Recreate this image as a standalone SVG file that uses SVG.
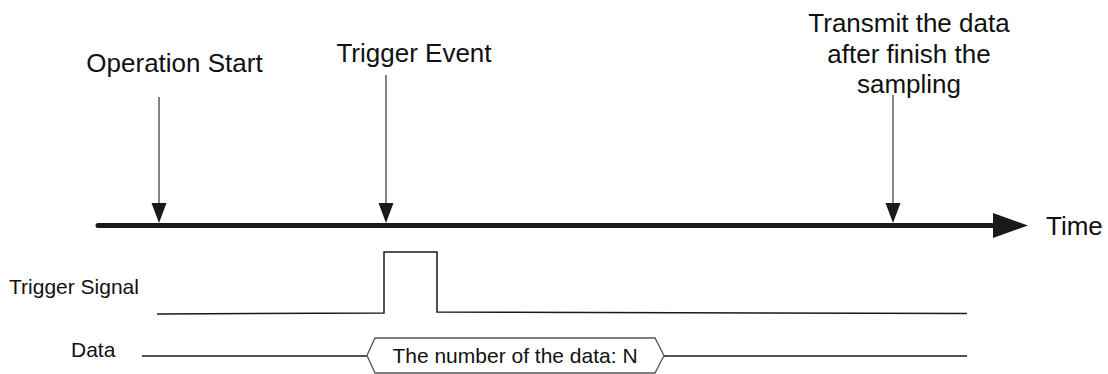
<svg xmlns="http://www.w3.org/2000/svg" width="1108" height="374" viewBox="0 0 1108 374">
<style>
text{font-family:"Liberation Sans",Arial,sans-serif;fill:#111}
.big{font-size:26px}
.small{font-size:21px}
.thin{stroke:#333;stroke-width:1.2;fill:none}
.sig{stroke:#1a1a1a;stroke-width:1.5;fill:none}
.head{fill:#1a1a1a}
</style>
<rect width="1108" height="374" fill="#fff"/>
<g id="time-axis">
<line x1="98" y1="225.5" x2="996" y2="225.5" stroke="#1a1a1a" stroke-width="5" stroke-linecap="round"/>
<polygon class="head" points="993,213 1028,225.5 993,238"/>
<text class="big" x="1046" y="235">Time</text>
</g>
<g id="operation-start">
<text class="big" x="174.5" y="72" text-anchor="middle">Operation Start</text>
</g>
<g id="trigger-event">
<text class="big" x="414" y="62" text-anchor="middle">Trigger Event</text>
</g>
<g id="transmit">
<text class="big" text-anchor="middle"><tspan x="909" y="32">Transmit the data</tspan><tspan x="909" y="63">after finish the</tspan><tspan x="909" y="93">sampling</tspan></text>
</g>
<g id="connectors">
<line class="thin" x1="159" y1="97" x2="159" y2="205"/>
<polygon class="head" points="151.5,203 166.5,203 159,223"/>
<line class="thin" x1="386" y1="75" x2="386" y2="205"/>
<polygon class="head" points="378.5,203 393.5,203 386,223"/>
<line class="thin" x1="893" y1="95" x2="893" y2="205"/>
<polygon class="head" points="885.5,203 900.5,203 893,223"/>
</g>
<g id="trigger-signal">
<text x="9" y="293.5" style="font-size:21px">Trigger Signal</text>
<polyline class="sig" points="157,314 384,313 384,252 437,252 437,312 967,313.5"/>
</g>
<g id="data">
<text class="small" x="71" y="357">Data</text>
<line class="sig" x1="142" y1="356" x2="367" y2="356"/>
<polygon points="367,355.5 375,338 655,338 664,355.5 655,373 375,373" fill="#fff" stroke="#555" stroke-width="1.3"/>
<line class="sig" x1="664" y1="356" x2="967" y2="356"/>
<text class="small" x="515" y="362.5" text-anchor="middle">The number of the data: N</text>
</g>
</svg>
